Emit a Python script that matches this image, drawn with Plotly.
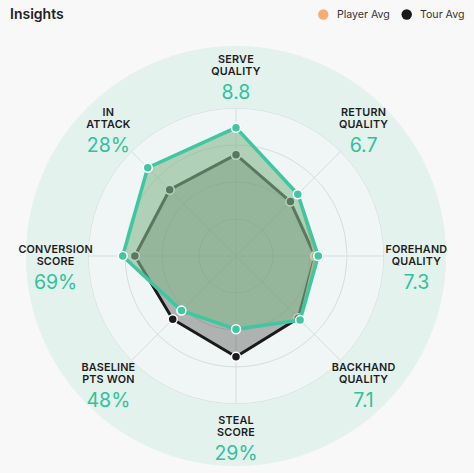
import math
import plotly.graph_objects as go

# categories clockwise from the top
categories = ["SERVE<br>QUALITY", "RETURN<br>QUALITY", "FOREHAND<br>QUALITY", "BACKHAND<br>QUALITY",
              "STEAL<br>SCORE", "BASELINE<br>PTS WON", "CONVERSION<br>SCORE", "IN<br>ATTACK"]
display_values = ["8.8", "6.7", "7.3", "7.1", "29%", "48%", "69%", "28%"]

# radar values on a 0-10 scale
player = [8.68, 5.91, 5.56, 6.13, 4.95, 5.22, 7.66, 8.44]
player_avg = [8.68, 5.91, 5.35, 6.13, 4.95, 5.22, 7.66, 8.44]
tour_avg = [6.85, 5.20, 5.34, 5.95, 6.82, 6.05, 6.84, 6.34]

legend_names = ["Player Avg", "Tour Avg"]

grid_vals = [2.5, 5, 7.5, 10]

W, H = 474, 473
R_MAX = 14.2       # outer edge of the shaded disc
RING = 10          # edge of the inner, lighter disc
LABEL_R = 12.2
SIDE_DROP = 0.88   # side labels sit a bit lower
BASE_DROP = 0.2

TEAL = "#3fc7a1"
VALUE_TEAL = "#2fc29c"
ORANGE = "#f7ad72"
BLACK = "#1a1a1a"
FONT = "Inter"

n = len(categories)
angles = [i * 360 / n for i in range(n)]


def closed(vals):
    return vals + vals[:1]


# label positions: a fixed radius with a small downward shift
lab_r, lab_t = [], []
for a in angles:
    s, c = math.sin(math.radians(a)), math.cos(math.radians(a))
    drop = SIDE_DROP if abs(s) > 0.99 else BASE_DROP
    x = LABEL_R * s
    y = -LABEL_R * c + drop
    lab_r.append(math.hypot(x, y))
    lab_t.append(math.degrees(math.atan2(x, -y)) % 360)

label_text = [
    f"<span style='font-size:10.8px;letter-spacing:0.2px'>{name}</span><br><br>"
    f"<span style='font-size:19.5px;font-weight:400;fill:{VALUE_TEAL}'>{val}</span>"
    for name, val in zip(categories, display_values)
]

fig = go.Figure()

# outer annulus (covers the spokes beyond the last ring)
fig.add_trace(go.Barpolar(
    r=[R_MAX - RING - 0.04] * n, base=RING + 0.04, theta=angles, width=[360 / n] * n,
    marker=dict(color="#e4f2ee", line=dict(color="#e4f2ee", width=1)),
    hoverinfo="skip", showlegend=False,
))

# tour average
fig.add_trace(go.Scatterpolar(
    r=closed(tour_avg), theta=closed(angles), mode="lines+markers",
    fill="toself", fillcolor="rgba(0,0,0,0.27)",
    line=dict(color=BLACK, width=3),
    marker=dict(color=BLACK, size=9, line=dict(color="white", width=1.5)),
    hoverinfo="skip", showlegend=False,
))

# player average
fig.add_trace(go.Scatterpolar(
    r=closed(player_avg), theta=closed(angles), mode="lines+markers",
    line=dict(color=ORANGE, width=2),
    marker=dict(color=ORANGE, size=8, line=dict(color="white", width=1.5)),
    hoverinfo="skip", showlegend=False,
))

# player
fig.add_trace(go.Scatterpolar(
    r=closed(player), theta=closed(angles), mode="lines+markers",
    fill="toself", fillcolor="rgba(133,183,142,0.6)",
    line=dict(color=TEAL, width=3.5),
    marker=dict(color=TEAL, size=9, line=dict(color="white", width=1.5)),
    hoverinfo="skip", showlegend=False,
))

# category labels
fig.add_trace(go.Scatterpolar(
    r=lab_r, theta=lab_t, mode="text", text=label_text,
    textposition="middle center",
    textfont=dict(family=FONT, size=9.3, color="#1c1c1c", weight=600),
    hoverinfo="skip", showlegend=False,
))


# legend drawn by hand at the top right (dot + text)
def px(x, y):
    return x / W, 1 - y / H


for name, col, dot_x in zip(legend_names, [ORANGE, BLACK], [323.3, 406.7]):
    x0, y0 = px(dot_x - 5.2, 19.7)
    x1, y1 = px(dot_x + 5.2, 9.3)
    fig.add_shape(type="circle", xref="paper", yref="paper", x0=x0, y0=y0, x1=x1, y1=y1,
                  fillcolor=col, line=dict(width=0))
    tx, ty = px(dot_x + 11.5, 14.5)
    fig.add_annotation(text=name, xref="paper", yref="paper", x=tx, y=ty, xanchor="left",
                       yanchor="middle", showarrow=False,
                       font=dict(family=FONT, size=10.6, color="#333"))

fig.update_layout(
    width=W, height=H, autosize=False,
    margin=dict(l=0, r=0, t=0, b=0),
    paper_bgcolor="#f8f8f8",
    showlegend=False,
    font=dict(family=FONT, color="#222"),
    title=dict(text="Insights", x=10 / W, xanchor="left", y=1 - 14 / H, yanchor="middle",
               font=dict(family=FONT, size=14, color="#222", weight=600)),
    polar=dict(
        domain=dict(x=[26 / W, 446 / W], y=[1 - 466 / H, 1 - 46 / H]),
        bgcolor="#eff6f5",
        radialaxis=dict(range=[0, R_MAX], tickvals=grid_vals, showticklabels=False,
                        showline=False, ticks="", gridcolor="#d6dddc", gridwidth=1),
        angularaxis=dict(rotation=90, direction="clockwise", thetaunit="degrees",
                         tickvals=angles, showticklabels=False, showline=False, ticks="",
                         gridcolor="#d6dddc", gridwidth=1),
    ),
)

# drop the default page margin so the figure fills the window
fig.write_html("out.html", config={"displayModeBar": False},
               post_script="document.body.style.margin='0';document.body.style.background='#f8f8f8';")
